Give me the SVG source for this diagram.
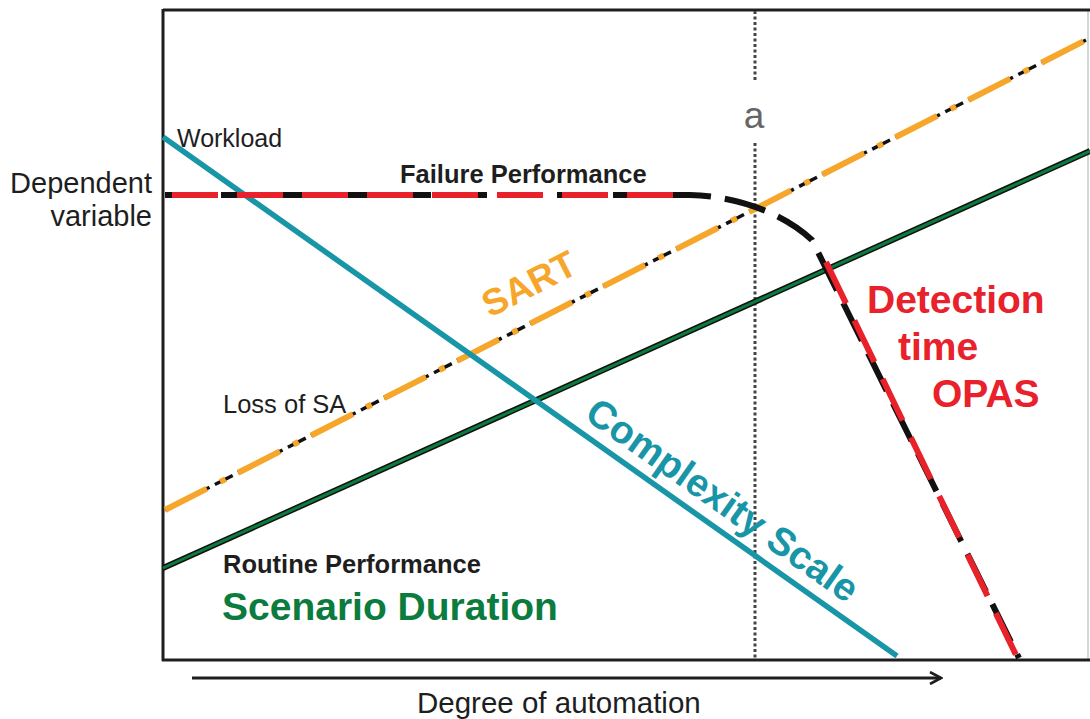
<svg xmlns="http://www.w3.org/2000/svg" width="1090" height="719" viewBox="0 0 1090 719">
<defs>
<style>
.lbl{font-family:"Liberation Sans",Arial,sans-serif;fill:#1e1e1e}
.b{font-family:"Liberation Sans",Arial,sans-serif;font-weight:bold}
</style>
<marker id="chev" viewBox="0 0 14 14" refX="12" refY="7" markerWidth="14" markerHeight="14" markerUnits="userSpaceOnUse" orient="auto">
<path d="M1,1 L12,7 L1,13" fill="none" stroke="#1e1e1e" stroke-width="2.6"/>
</marker>
</defs>
<rect x="0" y="0" width="1090" height="719" fill="#fff"/>
<g id="frame" fill="none">
<line x1="1088" y1="10" x2="1088" y2="660" stroke="#c8c8c8" stroke-width="1.5"/>
<line x1="163" y1="10" x2="1090" y2="10" stroke="#1e1e1e" stroke-width="3"/>
<line x1="163" y1="9" x2="163" y2="661" stroke="#1e1e1e" stroke-width="3"/>
<line x1="162" y1="660" x2="1090" y2="660" stroke="#1e1e1e" stroke-width="3"/>
<line x1="192" y1="678" x2="941" y2="678" stroke="#1e1e1e" stroke-width="3" marker-end="url(#chev)"/>
</g>
<g id="connectors" fill="none">
<line id="marker-a-top" x1="755" y1="11" x2="755" y2="82" stroke="#444" stroke-width="3" stroke-dasharray="3 2.5"/>
<line id="marker-a-bottom" x1="755" y1="143" x2="755" y2="658" stroke="#444" stroke-width="3" stroke-dasharray="3 2.5"/>
<g id="routine">
<line x1="163" y1="568" x2="1090" y2="151" stroke="#111" stroke-width="6"/>
<line x1="163" y1="568" x2="1090" y2="151" stroke="#0b7b3e" stroke-width="3"/>
</g>
<g id="sart-line">
<line x1="165" y1="510" x2="1086" y2="40" stroke="#111" stroke-width="3.5" stroke-dasharray="50 6 20 6"/>
<line x1="165" y1="510" x2="1086" y2="40" stroke="#f6a72b" stroke-width="6" stroke-dasharray="47 15 6 14"/>
</g>
<line id="workload" x1="163" y1="137" x2="897" y2="656" stroke="#1895a6" stroke-width="5.5"/>
<g id="failure">
<path d="M165,195 L690,195 C735,196 782,212 812,240 L1019,658" stroke="#111" stroke-width="6" stroke-dasharray="42 14"/>
<line x1="172" y1="195" x2="676" y2="195" stroke="#e8212b" stroke-width="6" stroke-dasharray="46 19"/>
<line x1="826" y1="262" x2="1017" y2="657" stroke="#e8212b" stroke-width="6" stroke-dasharray="46 19"/>
</g>
</g>
<g id="axis-labels">
<text class="lbl" x="152" y="193" font-size="29" text-anchor="end">Dependent</text>
<text class="lbl" x="152" y="226" font-size="29" text-anchor="end">variable</text>
<text class="lbl" x="417" y="713" font-size="29.5">Degree of automation</text>
<text x="754" y="128" font-size="37" text-anchor="middle" font-family="'Liberation Sans',Arial,sans-serif" fill="#666">a</text>
</g>
<g id="workload-node">
<text class="lbl" x="177" y="147" font-size="25">Workload</text>
</g>
<g id="failure-node">
<text class="b" x="400" y="183" font-size="25.5" fill="#1e1e1e">Failure Performance</text>
</g>
<g id="loss-node">
<text class="lbl" x="223" y="413" font-size="25.5">Loss of SA</text>
</g>
<g id="routine-node">
<text class="b" x="223" y="573" font-size="25.5" fill="#1e1e1e">Routine Performance</text>
<text class="b" x="222" y="620" font-size="39" fill="#0b7b3e">Scenario Duration</text>
</g>
<g id="sart-node">
<text class="b" x="490" y="318" font-size="37" fill="#f6a72b" transform="rotate(-27 490 318)">SART</text>
</g>
<g id="complexity-node">
<text class="b" x="715" y="511" font-size="39" font-family="'Liberation Sans',Arial,sans-serif" fill="#1895a6" text-anchor="middle" transform="rotate(35.2 715 511)">Complexity Scale</text>
</g>
<g id="detection-node">
<text class="b" x="867" y="313" font-size="39" fill="#e8212b">Detection</text>
<text class="b" x="898" y="360" font-size="39" fill="#e8212b">time</text>
<text class="b" x="932" y="407" font-size="39" fill="#e8212b">OPAS</text>
</g>
</svg>
